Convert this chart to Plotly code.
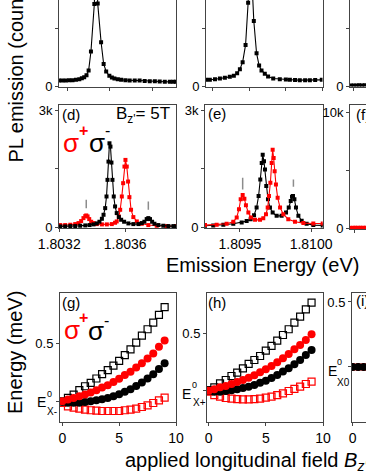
import plotly.graph_objects as go

W, H = 366, 473
FONT = "Liberation Sans, Arial, sans-serif"
RED = "#ff0000"
BLACK = "#000000"
GRAY = "#8c8c8c"
AXC = "#444444"

# ---------------- top row: zero field spectra (energies as offsets in micro-eV) -------------
A_E0 = 1.8030
a_dE = [-40, -24, -8, 8, 24, 40, 56, 68, 79, 90, 100, 111, 127, 135, 143, 159, 171, 183, 198, 210,
        222, 238, 254, 274, 294, 318, 341, 365, 389, 413, 436, 460, 484, 500, 513]
a_counts = [513, 513, 513, 527, 542, 570, 627, 700, 798, 969, 1368, 2993, 7068, 12500, 7100, 3791, 1938, 1283, 912, 780,
            684, 620, 570, 540, 513, 513, 513, 480, 456, 440, 428, 410, 399, 399, 399]

B_E0 = 1.8093
b_dE = [-36, -15, 13, 40, 67, 94, 116, 134, 149, 164, 180, 194, 203, 213, 225, 240, 254, 267, 285, 303,
        331, 367, 400, 422, 450, 476, 505, 531, 560, 596]
b_counts = [570, 570, 627, 684, 741, 827, 912, 1140, 1482, 2081, 3563, 7182, 13000, 9000, 5615, 2850, 1796, 1368, 1083, 855,
            684, 627, 600, 570, 555, 542, 542, 542, 555, 570]

C_E0 = 1.8150
c_dE = [-15, 0, 15, 30, 45, 60]
c_counts = [90, 80, 90, 100, 90, 100]

# ---------------- middle row: B = 5 T spectra ----------------
D_E0 = 1.8032
d_black_dE = [6, 36, 67, 97, 127, 158, 184, 208, 228, 244, 259, 269, 279, 287, 293, 299, 305, 311, 317, 323,
              331, 339, 349, 362, 376, 394, 420, 450, 481, 501, 517, 531, 541, 551, 564, 578, 602, 632, 663, 693, 709]
d_black = [26, 26, 34, 34, 43, 51, 60, 77, 102, 145, 221, 323, 493, 791, 1216, 1683, 2151, 2066, 1658, 1216,
           791, 536, 366, 264, 196, 145, 102, 85, 85, 111, 145, 213, 238, 213, 145, 94, 60, 43, 34, 34, 26]
d_red_dE = [6, 36, 67, 97, 117, 133, 147, 158, 164, 172, 182, 194, 208, 228, 259, 289, 319, 339, 349, 362,
            370, 380, 388, 396, 402, 410, 418, 426, 436, 450, 471, 501, 541, 592, 652, 709]
d_red = [60, 60, 68, 85, 111, 162, 238, 289, 306, 281, 213, 145, 111, 85, 77, 77, 85, 119, 153, 281,
         451, 791, 1131, 1556, 1726, 1556, 1173, 774, 451, 264, 153, 94, 60, 43, 34, 34]
d_mark_dE = [164, 541]
d_mark_lo = [493, 451]
d_mark_hi = [706, 663]

E_E0 = 1.8095
e_black_dE = [-246, -188, -117, -47, 12, 47, 75, 99, 117, 131, 143, 153, 160, 169, 176, 185, 197, 211, 230, 258,
              293, 324, 343, 357, 366, 373, 383, 394, 411, 434, 469, 516, 582]
e_black = [42, 51, 68, 93, 127, 161, 211, 313, 507, 803, 1225, 1648, 1859, 1690, 1479, 1056, 718, 507, 380, 296,
           296, 380, 507, 676, 786, 803, 718, 507, 296, 169, 93, 59, 51]
e_red_dE = [-246, -164, -94, -47, -23, -7, 5, 19, 31, 42, 59, 77, 106, 141, 164, 183, 195, 204, 214, 223,
            230, 237, 244, 253, 265, 282, 305, 340, 387, 446, 516, 582]
e_red = [59, 68, 93, 144, 254, 465, 718, 828, 735, 566, 380, 254, 194, 194, 237, 338, 507, 803, 1141, 1648,
         1986, 1775, 1437, 1099, 761, 507, 338, 211, 144, 110, 101, 101]
e_mark_dE = [19, 376]
e_mark_lo = [972, 1039]
e_mark_hi = [1267, 1225]

F_E0 = 1.8150
f_red_dE = [-30, -12, 6, 24, 42, 60, 78]
f_red = [90, 90, 100, 90, 100, 90, 100]

# ---------------- bottom row: energies vs field ----------------
field = [0, 0.5, 1, 1.5, 2, 2.5, 3, 3.5, 4, 4.5, 5, 5.5, 6, 6.5, 7, 7.5, 8, 8.5, 9]
g_sq_black = [0.006, 0.034, 0.063, 0.100, 0.134, 0.163, 0.200, 0.237, 0.271, 0.309, 0.351, 0.400, 0.449, 0.506, 0.566, 0.620, 0.677, 0.743, 0.809]
g_circ_red = [0.006, 0.020, 0.034, 0.049, 0.063, 0.080, 0.100, 0.123, 0.143, 0.171, 0.197, 0.229, 0.257, 0.294, 0.329, 0.371, 0.414, 0.471, 0.523]
g_circ_black = [0.0, -0.006, -0.006, -0.006, 0.0, 0.006, 0.014, 0.023, 0.034, 0.049, 0.066, 0.086, 0.109, 0.137, 0.166, 0.200, 0.237, 0.280, 0.329]
g_sq_red = [-0.009, -0.037, -0.049, -0.057, -0.066, -0.071, -0.074, -0.077, -0.077, -0.077, -0.077, -0.071, -0.066, -0.057, -0.043, -0.029, -0.009, 0.014, 0.037]

h_sq_black = [0.006, 0.029, 0.064, 0.093, 0.128, 0.157, 0.195, 0.233, 0.267, 0.302, 0.349, 0.390, 0.436, 0.485, 0.535, 0.593, 0.645, 0.709, 0.767]
h_circ_red = [0.0, 0.012, 0.029, 0.041, 0.058, 0.076, 0.093, 0.113, 0.134, 0.160, 0.186, 0.215, 0.247, 0.282, 0.320, 0.360, 0.398, 0.442, 0.491]
h_circ_black = [-0.003, -0.009, -0.009, -0.003, 0.003, 0.012, 0.023, 0.035, 0.049, 0.070, 0.087, 0.110, 0.137, 0.166, 0.195, 0.230, 0.267, 0.311, 0.355]
h_sq_red = [-0.009, -0.038, -0.052, -0.064, -0.070, -0.073, -0.076, -0.076, -0.073, -0.070, -0.061, -0.052, -0.038, -0.023, -0.003, 0.015, 0.035, 0.058, 0.078]

i_field = [0, 0.5, 1.0]
i_red = [0.0, 0.0, 0.0]
i_black = [0.0, 0.0, 0.0]


def ev(base, d):
    return [base + v * 1e-6 for v in d]


def px(x):
    return x / W


def py(y):
    return 1 - y / H


fig = go.Figure()


def spec(n, x, y, color):
    fig.add_trace(go.Scatter(
        x=x, y=y, mode="lines+markers", xaxis=f"x{n}", yaxis=f"y{n}",
        line=dict(color=color, width=1.1),
        marker=dict(symbol="square", size=4, color=color, line=dict(width=0)),
        hoverinfo="skip", showlegend=False))


def marks(n, base, dE, lo, hi):
    xs, ys = [], []
    for d, a, b in zip(dE, lo, hi):
        xs += [base + d * 1e-6, base + d * 1e-6, None]
        ys += [a, b, None]
    fig.add_trace(go.Scatter(x=xs, y=ys, mode="lines", xaxis=f"x{n}", yaxis=f"y{n}",
                             line=dict(color=GRAY, width=1.5), hoverinfo="skip", showlegend=False))


def pts(n, x, y, color, symbol, size):
    opened = "open" in symbol
    fig.add_trace(go.Scatter(
        x=x, y=y, mode="markers", xaxis=f"x{n}", yaxis=f"y{n}",
        marker=dict(symbol=symbol, size=size, color=color,
                    line=dict(color=color, width=1.2 if opened else 0)),
        hoverinfo="skip", showlegend=False))


spec(1, ev(A_E0, a_dE), a_counts, BLACK)
spec(2, ev(B_E0, b_dE), b_counts, BLACK)
spec(3, ev(C_E0, c_dE), c_counts, BLACK)

marks(4, D_E0, d_mark_dE, d_mark_lo, d_mark_hi)
spec(4, ev(D_E0, d_red_dE), d_red, RED)
spec(4, ev(D_E0, d_black_dE), d_black, BLACK)

marks(5, E_E0, e_mark_dE, e_mark_lo, e_mark_hi)
spec(5, ev(E_E0, e_black_dE), e_black, BLACK)
spec(5, ev(E_E0, e_red_dE), e_red, RED)

spec(6, ev(F_E0, f_red_dE), f_red, RED)

for n, sqb, sqr, cb, cr in [(7, g_sq_black, g_sq_red, g_circ_black, g_circ_red),
                            (8, h_sq_black, h_sq_red, h_circ_black, h_circ_red)]:
    pts(n, field, sqb, BLACK, "square-open", 7)
    pts(n, field, sqr, RED, "square-open", 7)
    pts(n, field, cb, BLACK, "circle", 8)
    pts(n, field, cr, RED, "circle", 8)

pts(9, i_field, i_red, RED, "circle", 8)
pts(9, i_field, i_black, BLACK, "circle", 8)

tickfont_x = dict(family=FONT, size=14, color="black")
tickfont_y = dict(family=FONT, size=13, color="black")


def xaxis(dom, rng, tv, tt, mirror=True, labels=True):
    return dict(domain=[px(dom[0]), px(dom[1])], range=rng, tickvals=tv, ticktext=tt,
                showticklabels=labels, ticks="outside", ticklen=3, tickcolor=AXC,
                showline=True, linecolor=AXC, linewidth=1, mirror=mirror, automargin=False,
                showgrid=False, zeroline=False, tickfont=tickfont_x, fixedrange=True)


def yaxis(dom, rng, tv, tt, mirror=True):
    return dict(domain=[py(dom[1]), min(1.0, py(dom[0]))], range=rng, tickvals=tv, ticktext=tt,
                ticks="outside", ticklen=3, tickcolor=AXC, automargin=False,
                showline=True, linecolor=AXC, linewidth=1, mirror=mirror,
                showgrid=False, zeroline=False, tickfont=tickfont_y, fixedrange=True)


TOPY = (0, 86.5)
MIDY = (105, 228)
BOTY = (293, 422)
ax = {}
ax["xaxis"] = xaxis((59, 176), [A_E0 - 40e-6, A_E0 + 513e-6], [1.8030, 1.8032, 1.8034], ["a", "b", "c"], mirror=False, labels=False)
ax["yaxis"] = yaxis(TOPY, [0, 7410], [0, 5000], ["0", " "])
ax["xaxis2"] = xaxis((206, 322.5), [B_E0 - 36e-6, B_E0 + 600e-6], [1.8093, 1.8095, 1.8097, 1.8099], ["a", "b", "c", "d"], mirror=False, labels=False)
ax["yaxis2"] = yaxis(TOPY, [0, 7410], [0, 5000], ["0", " "])
ax["xaxis3"] = xaxis((350, 366), [C_E0 - 20e-6, C_E0 + 67e-6], [C_E0], ["a"], mirror=False, labels=False)
ax["yaxis3"] = yaxis(TOPY, [0, 7410], [0, 5000], ["0", " "], mirror=False)

ax["xaxis4"] = xaxis((59, 176), [D_E0 - 1.5e-6, D_E0 + 709e-6], [1.8032, 1.8036], ["1.8032", "1.8036"])
ax["yaxis4"] = yaxis(MIDY, [-15, 3130], [0, 1500, 3000], ["0", " ", "3k"])
ax["xaxis5"] = xaxis((205, 322.7), [E_E0 - 246e-6, E_E0 + 582e-6], [1.8095, 1.8100], ["1.8095", "1.8100"])
ax["yaxis5"] = yaxis(MIDY, [-15, 3130], [0, 1500, 3000], ["0", " ", "3k"])
ax["xaxis6"] = xaxis((350, 366), [F_E0 - 32e-6, F_E0 + 81e-6], [1.8150], ["1.8150"])
ax["yaxis6"] = yaxis((105, 229), [-10, 10600], [0, 5000, 10000], ["0", " ", "10k"], mirror=False)

ax["xaxis7"] = xaxis((60, 176), [-0.2, 10], [0, 5, 10], ["0", "5", "10"])
ax["yaxis7"] = yaxis(BOTY, [-0.171, 0.929], [0, 0.5], [" ", "0.5"])
ax["xaxis8"] = xaxis((207, 323), [-0.14, 10], [0, 5, 10], ["0", "5", "10"])
ax["yaxis8"] = yaxis(BOTY, [-0.273, 0.851], [0, 0.5], [" ", "0.5"])
ax["xaxis9"] = xaxis((352, 366), [-0.05, 1.2], [0, 5, 10], ["0", "5", "10"])
ax["yaxis9"] = yaxis(BOTY, [-0.423, 0.569], [0, 0.5], [" ", "0.5"], mirror=False)

for k in range(1, 10):
    xs = "xaxis" if k == 1 else f"xaxis{k}"
    ys = "yaxis" if k == 1 else f"yaxis{k}"
    ax[xs]["anchor"] = "y" if k == 1 else f"y{k}"
    ax[ys]["anchor"] = "x" if k == 1 else f"x{k}"


def ann(text, x, y, size, color="black", xanchor="center", angle=0, bold=False):
    t = f"<b>{text}</b>" if bold else text
    return dict(text=t, x=px(x), y=py(y), xref="paper", yref="paper", showarrow=False,
                xanchor=xanchor, yanchor="middle", textangle=angle, borderpad=0,
                font=dict(family=FONT, size=size, color=color))


annotations = [
    ann("PL emission (counts)", 15, 69.5, 20, angle=-90),
    ann("Energy (meV)", 15, 353, 20, angle=-90),
    ann("Emission Energy (eV)", 262, 265, 20),
    ann("applied longitudinal field <i>B</i><sub><i>z'</i></sub>", 124, 461, 20, xanchor="left"),
    ann("(d)", 61, 115, 15, xanchor="left"),
    ann("B<sub>z'</sub>= 5T", 171, 115, 17, xanchor="right"),
    ann("(e)", 207, 113, 15, xanchor="left"),
    ann("(f)", 355, 114, 15, xanchor="left"),
    ann("(g)", 61, 302, 15, xanchor="left"),
    ann("(h)", 207, 302, 15, xanchor="left"),
    ann("(i)", 355, 300, 15, xanchor="left"),
    # polarisation legends
    ann("σ", 70.5, 142.5, 26, RED),
    ann("+", 83, 130, 16, RED, bold=True),
    ann("σ", 96.7, 142.5, 26, BLACK),
    ann("-", 107, 130, 16, BLACK),
    ann("σ", 71.5, 329.5, 26, RED),
    ann("+", 83.5, 317, 16, RED, bold=True),
    ann("σ", 95.5, 330.5, 26, BLACK),
    ann("-", 106.5, 320, 16, BLACK),
    # zero-field reference energy labels
    ann("E", 41, 402, 14),
    ann("0", 49, 394, 9),
    ann("X-", 52, 411, 10),
    ann("E", 186, 394, 14),
    ann("0", 194, 385, 9),
    ann("X+", 199, 402, 10),
    ann("E", 332, 371, 14),
    ann("0", 339, 362, 9),
    ann("X0", 343, 382, 10),
]

fig.update_layout(
    width=W, height=H, margin=dict(l=0, r=0, t=0, b=0, pad=0, autoexpand=False),
    paper_bgcolor="white", plot_bgcolor="white", showlegend=False,
    font=dict(family=FONT, color="black"),
    annotations=annotations, **ax)

fig.write_html("out.html", config={"displayModeBar": False},
               post_script="document.body.style.margin='0';document.body.style.overflow='hidden';")
